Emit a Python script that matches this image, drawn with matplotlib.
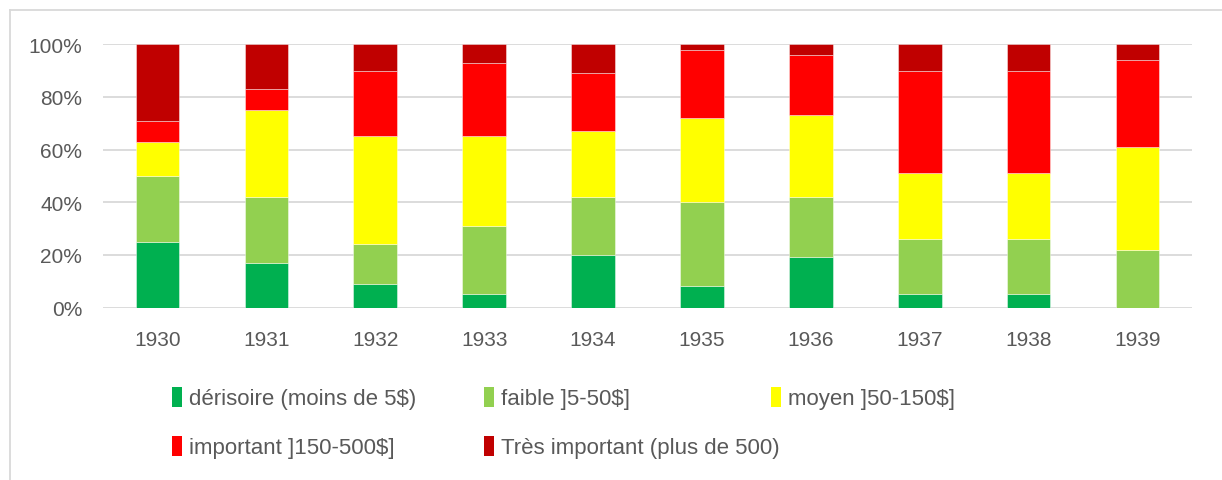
import matplotlib
matplotlib.use('Agg')
import matplotlib.pyplot as plt
from matplotlib.lines import Line2D
from matplotlib.patches import Patch
import numpy as np

years = ['1930', '1931', '1932', '1933', '1934', '1935', '1936', '1937', '1938', '1939']
series_names = ['dérisoire (moins de 5$)', 'faible ]5-50$]', 'moyen ]50-150$]',
                'important ]150-500$]', 'Très important (plus de 500)']

derisoire = [25, 17, 9, 5, 20, 8, 19, 5, 5, 0]
faible = [25, 25, 15, 26, 22, 32, 23, 21, 21, 22]
moyen = [13, 33, 41, 34, 25, 32, 31, 25, 25, 39]
important = [8, 8, 25, 28, 22, 26, 23, 39, 39, 33]
tres_important = [29, 17, 10, 7, 11, 2, 4, 10, 10, 6]

colors = ['#00B050', '#92D050', '#FFFF00', '#FF0000', '#C00000']
TEXT = '#595959'
GRID = '#D9D9D9'

plt.rcParams['font.family'] = ['Liberation Sans', 'DejaVu Sans']

W, H = 1222, 481
fig = plt.figure(figsize=(W / 100, H / 100), dpi=100)
ax = fig.add_axes([103 / W, 1 - 308.5 / H, (1192 - 103) / W, (308.5 - 45.3) / H])

x = np.arange(len(years))
data = [derisoire, faible, moyen, important, tres_important]
bottom = np.zeros(len(years))
for vals, col, name in zip(data, colors, series_names):
    vals = np.array(vals, dtype=float)
    ax.bar(x, vals, 0.4, bottom=bottom, color=col, label=name,
           edgecolor=(1, 1, 1, 0.5), linewidth=0.6, zorder=3)
    bottom += vals

ax.set_xlim(-0.5, len(years) - 0.5)
ax.set_ylim(0, 100)
ax.set_yticks(np.arange(0, 101, 20))
ax.set_yticklabels(['%d%%' % v for v in range(0, 101, 20)])
ax.set_xticks(x)
ax.set_xticklabels(years)
ax.tick_params(length=0, labelsize=15, colors=TEXT)
ax.tick_params(axis='x', pad=16.5)
ax.tick_params(axis='y', pad=15)
ax.yaxis.grid(True, color=GRID, linewidth=1.3, zorder=0)
for s in ax.spines.values():
    s.set_visible(False)

# legend entries placed like the Excel layout (row-wise, fixed columns)
positions = [(172, 399), (484, 399), (771, 399), (172, 448), (484, 448)]
for name, col, (px, py) in zip(series_names, colors, positions):
    fig.legend(handles=[Patch(facecolor=col)], labels=[name], loc='center left',
               bbox_to_anchor=(px / W, 1 - py / H), frameon=False,
               fontsize=16, labelcolor=TEXT, handlelength=0.45, handleheight=1.0,
               handletextpad=0.3, borderpad=0, borderaxespad=0)

# chart frame (partly cut off)
fig.add_artist(Line2D([9.5 / W, 9.5 / W], [0, 1 - 10.7 / H], color=GRID, linewidth=1.3))
fig.add_artist(Line2D([9.5 / W, 1], [1 - 10.7 / H, 1 - 10.7 / H], color=GRID, linewidth=1.3))

fig.savefig('out.png', dpi=100)
